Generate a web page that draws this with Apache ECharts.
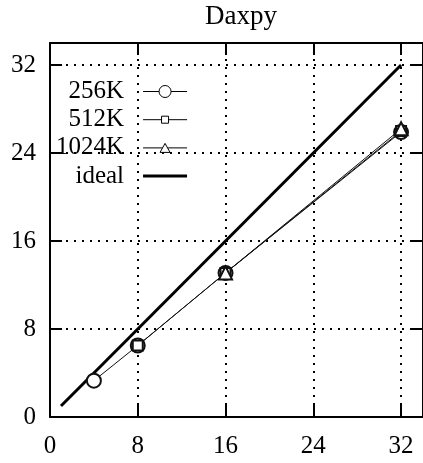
<!DOCTYPE html>
<html>
<head>
<meta charset="utf-8">
<script src="https://cdn.jsdelivr.net/npm/echarts@6/dist/echarts.min.js"></script>
<style>
html,body{margin:0;padding:0;background:#fff;}
#chart{width:423px;height:463px;}
</style>
</head>
<body>
<div id="chart"></div>
<script>
const titleText = 'Daxpy';
const seriesNames = ['256K', '512K', '1024K', 'ideal'];
const x256 = [4, 8, 16, 32];
const y256 = [3.3, 6.5, 13.1, 25.9];
const x512 = [8, 16, 32];
const y512 = [6.5, 13.1, 26.0];
const x1024 = [16, 32];
const y1024 = [13.1, 26.2];
const xIdeal = [1, 32];
const yIdeal = [1, 32];
const tickValues = [0, 8, 16, 24, 32];

const FONT = 'Liberation Serif';
function pairs(xs, ys) { return xs.map((x, i) => [x, ys[i]]); }

const chart = echarts.init(document.getElementById('chart'), null, {renderer: 'canvas'});

const black = '#000';
function axisCommon(pos, isMain) {
  return {
    type: 'value', min: 0, max: 34, interval: 4, position: pos,
    axisLine: {show: true, onZero: false, lineStyle: {color: black, width: 2}},
    axisTick: {show: true, inside: true, length: 12, customValues: tickValues, lineStyle: {color: black, width: 2}},
    axisLabel: isMain ? {show: true, customValues: tickValues, fontFamily: FONT, fontSize: 25, color: black, margin: 14} : {show: false},
    splitLine: isMain ? {show: true, lineStyle: {color: black, width: 2, type: [2, 6]}} : {show: false}
  };
}
const xBottom = axisCommon('bottom', true); xBottom.axisLabel.margin = 17;
const yLeft = axisCommon('left', true);

// legend icons (line + marker), shapes only
const iconCircle = 'path://M0,7L16,7M28,7L44,7M16,7A6,6 0 1 1 28,7A6,6 0 1 1 16,7Z';
const iconSquare = 'path://M0,7L18.5,7M25.5,7L44,7M18.5,3.5L25.5,3.5L25.5,10.5L18.5,10.5Z';
const iconTriangle = 'path://M0,7L19.5,7M24.5,7L44,7M17,11.5L27,11.5L22,2.5Z';
const iconIdeal = 'path://M0,5.5L44,5.5L44,8.5L0,8.5Z';
const hollow = {color: '#fff', borderColor: black, borderWidth: 1};

const option = {
  backgroundColor: '#fff',
  animation: false,
  title: {text: titleText, left: 200, top: -2, textStyle: {fontFamily: FONT, fontSize: 27, fontWeight: 'normal', color: black}},
  grid: {left: 50, top: 43, width: 376, height: 374},
  legend: {
    orient: 'vertical', left: 56, top: 79, padding: 0, align: 'right',
    itemWidth: 44, itemHeight: 14, itemGap: 3.2,
    symbolKeepAspect: true,
    textStyle: {fontFamily: FONT, fontSize: 25, color: black, lineHeight: 24, padding: [0, 14, 0, 0]},
    data: [
      {name: seriesNames[0], icon: iconCircle, itemStyle: hollow},
      {name: seriesNames[1], icon: iconSquare, itemStyle: hollow},
      {name: seriesNames[2], icon: iconTriangle, itemStyle: hollow},
      {name: seriesNames[3], icon: iconIdeal, itemStyle: {color: black, borderWidth: 0}}
    ]
  },
  xAxis: [xBottom, axisCommon('top', false)],
  yAxis: [yLeft, axisCommon('right', false)],
  series: [
    {name: seriesNames[0], type: 'line', data: pairs(x256, y256), symbol: 'emptyCircle', symbolSize: 14,
     lineStyle: {color: '#111', width: 1}, itemStyle: {color: '#111', borderWidth: 1}},
    {name: seriesNames[1], type: 'line', data: pairs(x512, y512), symbol: 'emptyRect', symbolSize: 10,
     lineStyle: {color: '#111', width: 1}, itemStyle: {color: '#111', borderWidth: 1}},
    {name: seriesNames[2], type: 'line', data: pairs(x1024, y1024), symbol: 'emptyTriangle', symbolSize: 13,
     lineStyle: {color: '#111', width: 1}, itemStyle: {color: '#111', borderWidth: 1}},
    {name: seriesNames[3], type: 'line', data: pairs(xIdeal, yIdeal), symbol: 'none',
     lineStyle: {color: black, width: 3}, itemStyle: {color: black}}
  ]
};
chart.setOption(option);
</script>
</body>
</html>
